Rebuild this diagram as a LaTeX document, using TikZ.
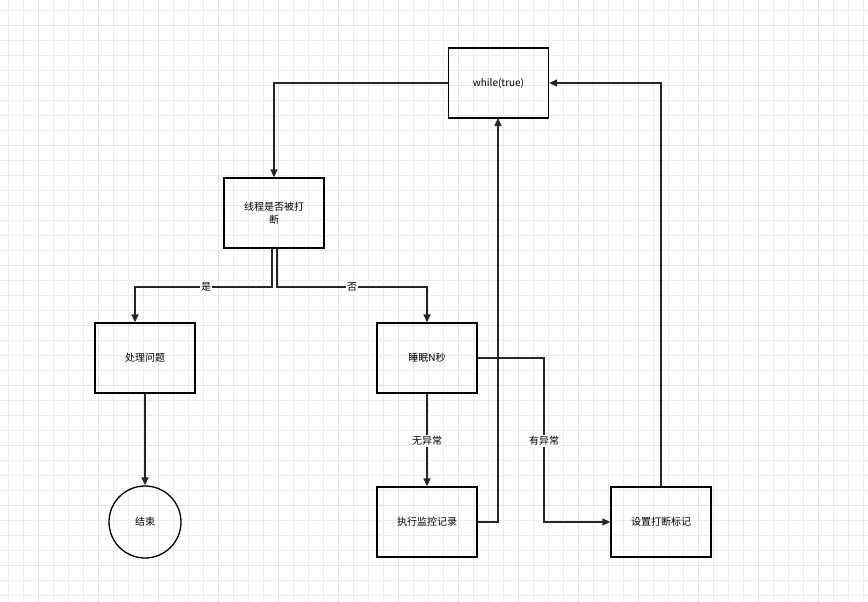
\documentclass[tikz,border=0pt]{standalone}
\usepackage{fontspec}
\setmainfont{Noto Sans CJK SC}
\usetikzlibrary{arrows.meta}
\begin{document}
\begin{tikzpicture}[x=1pt,y=-1pt,
 box/.style={draw,line width=1.3pt,minimum width=100pt,minimum height=70pt,align=center,font=\fontsize{10}{13}\selectfont,text width=90pt},
 arr/.style={draw=black!85,line width=1.3pt,-{Triangle[length=8pt,width=7pt]}},
 ln/.style={draw=black!85,line width=1.3pt},
 lab/.style={fill=white,font=\fontsize{10}{12}\selectfont,inner sep=1pt}]
\fill[white] (0,0) rectangle (868,602);
\useasboundingbox (0,0) rectangle (868,602);
\foreach \x in {8,23,...,868} \draw[black!7,line width=0.6pt] (\x,0) -- (\x,602);
\foreach \y in {10,25,...,602} \draw[black!7,line width=0.6pt] (0,\y) -- (868,\y);
\foreach \x in {38,98,...,868} \draw[black!11,line width=0.6pt] (\x,0) -- (\x,602);
\foreach \y in {25,85,...,602} \draw[black!11,line width=0.6pt] (0,\y) -- (868,\y);
\node[box] (w) at (498.5,83) {while(true)};
\node[box] (t) at (274,213) {线程是否被打\\断};
\node[box] (p) at (145,358) {处理问题};
\node[box] (s) at (427,358) {睡眠N秒};
\node[draw,line width=1.3pt,circle,minimum size=72pt,font=\fontsize{10}{12}\selectfont] (e) at (145,522) {结束};
\node[box] (x) at (427,522) {执行监控记录};
\node[box] (m) at (661,522) {设置打断标记};
\coordinate (j) at (272,287);
\draw[arr] (w.west) -| (t.north);
\draw[arr] ([xshift=-2pt]t.south) |- (135,287) -- (p.north -| 135,0);
\node[lab] at (206,287) {是};
\draw[arr] ([xshift=3pt]t.south) |- (427,287) -- (s.north);
\node[lab] at (352,287) {否};
\draw[arr] (p.south) -- (e.north);
\draw[arr] (s.south) -- (x.north);
\node[lab] at (427,441) {无异常};
\draw[arr] (s.east) -- (544,358) |- (m.west);
\node[lab] at (544,441) {有异常};
\draw[arr] (x.east) -- (498,522) -- (498,118);
\draw[arr] (m.north) |- (w.east);
\end{tikzpicture}
\end{document}
